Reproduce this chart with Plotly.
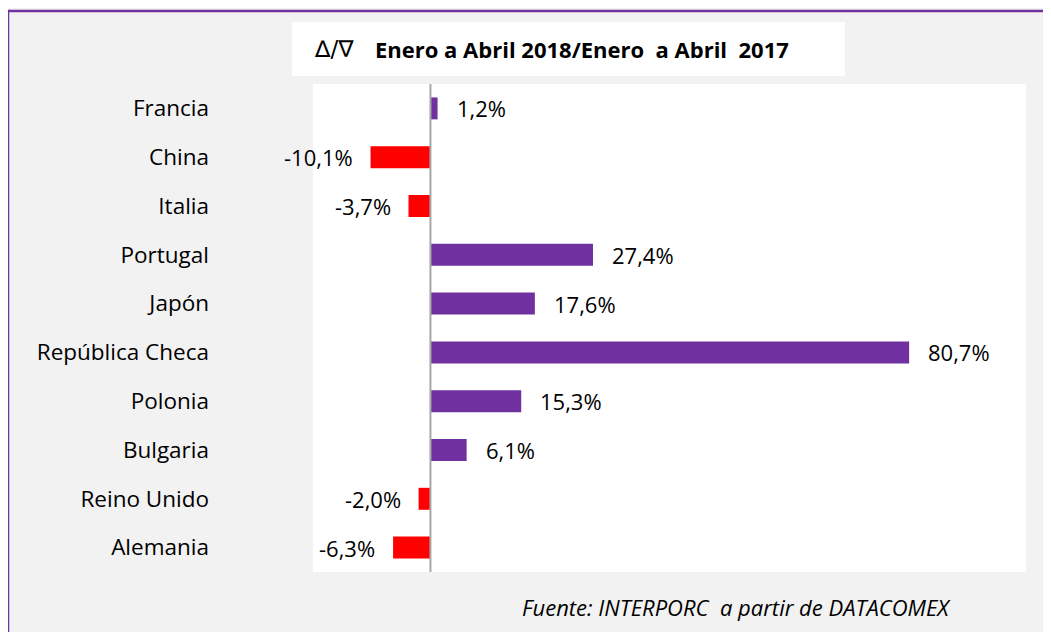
import plotly.graph_objects as go

countries = ["Francia", "China", "Italia", "Portugal", "Japón", "República Checa",
             "Polonia", "Bulgaria", "Reino Unido", "Alemania"]
values = [1.2, -10.1, -3.7, 27.4, 17.6, 80.7, 15.3, 6.1, -2.0, -6.3]
labels = ["1,2%", "-10,1%", "-3,7%", "27,4%", "17,6%", "80,7%", "15,3%", "6,1%", "-2,0%", "-6,3%"]
title_symbol = "∆/∇"
title_text = "Enero a Abril 2018/Enero  a Abril  2017"
source_text = "Fuente: INTERPORC  a partir de DATACOMEX"

POS = "#7030A0"
NEG = "#FF0000"
FONT = "Open Sans"

colors = [POS if v >= 0 else NEG for v in values]

fig = go.Figure()
fig.add_trace(go.Bar(
    x=values, y=countries, orientation="h",
    marker=dict(color=colors, line=dict(width=0)),
    width=0.45, hoverinfo="skip",
))

for c, v, t in zip(countries, values, labels):
    fig.add_annotation(
        x=v, y=c, text=t, showarrow=False,
        xanchor="left" if v >= 0 else "right",
        xshift=17 if v >= 0 else -16,
        font=dict(family=FONT, size=22, color="#000000"),
    )

# page offset (body margin) of 8px
OFF = 8
W, H = 1051, 632
L = 313 - OFF
T = 84 - OFF
R = W - (1026 - OFF)
B = H - (572 - OFF)
pw, ph = W - L - R, H - T - B

def px(x):
    return (x - OFF - L) / pw

def py(y):
    return (H - B - (y - OFF)) / ph

# title box
fig.add_shape(type="rect", xref="paper", yref="paper",
              x0=px(292), x1=px(845), y0=py(76), y1=py(22),
              fillcolor="white", line=dict(width=0), layer="below")
fig.add_annotation(xref="paper", yref="paper", x=px(312), y=py(49),
                   xanchor="left", yanchor="middle", showarrow=False,
                   text=title_symbol,
                   font=dict(family="DejaVu Sans", size=23, color="#000000"))
fig.add_annotation(xref="paper", yref="paper", x=px(373), y=py(49),
                   xanchor="left", yanchor="middle", showarrow=False,
                   text="<b>" + title_text + "</b>",
                   font=dict(family=FONT, size=22, color="#000000"))
# source
fig.add_annotation(xref="paper", yref="paper", x=px(953), y=py(607),
                   xanchor="right", yanchor="middle", showarrow=False,
                   text="<i>" + source_text + "</i>",
                   font=dict(family=FONT, size=22, color="#000000"))
# outer border
fig.add_shape(type="rect", xref="paper", yref="paper",
              x0=px(8), x1=px(1070), y0=py(660), y1=py(11),
              line=dict(color="#7030A0", width=2.5), fillcolor="rgba(0,0,0,0)")
# zero line
fig.add_shape(type="line", xref="x", yref="paper", x0=0, x1=0, y0=0, y1=1,
              line=dict(color="#A6A6A6", width=2))

fig.update_layout(
    width=W, height=H,
    margin=dict(l=L, r=R, t=T, b=B),
    paper_bgcolor="#F2F2F2", plot_bgcolor="#FFFFFF",
    showlegend=False,
)
fig.update_xaxes(range=[-19.8, 100.4], showgrid=False, zeroline=False,
                 showticklabels=False, ticks="", fixedrange=True)
fig.update_yaxes(autorange="reversed", showgrid=False, zeroline=False, ticks="",
                 ticklabelstandoff=103,
                 tickfont=dict(family=FONT, size=22.5, color="#000000"))

fig.write_html("out.html")
